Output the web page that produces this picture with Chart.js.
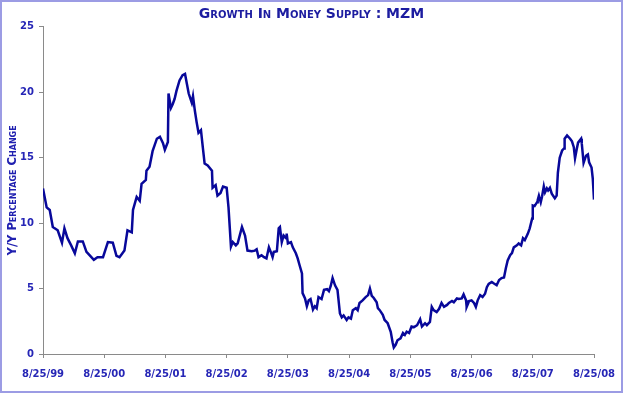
<!DOCTYPE html>
<html>
<head>
<meta charset="utf-8">
<script src="https://cdn.jsdelivr.net/npm/chart.js@4.4.1/dist/chart.umd.min.js"></script>
<style>
  body { margin: 0; background: #fff; }
  #wrap { position: relative; width: 623px; height: 393px; }
  #frame {
    position: absolute; left: 0; top: 0; width: 623px; height: 393px;
    box-sizing: border-box; border: 2px solid #9c9ce4; pointer-events: none;
  }
</style>
</head>
<body>
<div id="wrap">
  <canvas id="chart" width="623" height="393"></canvas>
  <div id="frame"></div>
</div>
<script>
// x tick labels, one per year starting 8/25/99
const xLabels = ['8/25/99', '8/25/00', '8/25/01', '8/25/02', '8/25/03',
                 '8/25/04', '8/25/05', '8/25/06', '8/25/07', '8/25/08'];

// time in years since 8/25/99
const yearsSince = [
  0.00, 0.06, 0.11, 0.16, 0.24, 0.31, 0.35, 0.40, 0.46, 0.52, 0.57, 0.65, 0.71, 0.76, 0.83, 0.89,
  0.98, 1.06, 1.14, 1.20, 1.25, 1.33, 1.38, 1.45, 1.47, 1.53, 1.58, 1.61, 1.68, 1.69, 1.74, 1.79,
  1.86, 1.91, 1.96, 1.99, 2.04, 2.05, 2.09, 2.12, 2.15, 2.18, 2.23, 2.28, 2.32, 2.35, 2.38, 2.43,
  2.45, 2.48, 2.51, 2.54, 2.58, 2.61, 2.64, 2.69, 2.76, 2.77, 2.82, 2.85, 2.90, 2.94, 3.00, 3.03,
  3.07, 3.10, 3.15, 3.18, 3.25, 3.30, 3.34, 3.41, 3.46, 3.49, 3.52, 3.57, 3.61, 3.65, 3.69, 3.72,
  3.75, 3.77, 3.82, 3.85, 3.87, 3.90, 3.93, 3.97, 3.98, 4.00, 4.05, 4.08, 4.13, 4.16, 4.19, 4.23,
  4.24, 4.28, 4.31, 4.34, 4.37, 4.41, 4.44, 4.47, 4.50, 4.55, 4.59, 4.64, 4.67, 4.70, 4.73, 4.77,
  4.81, 4.85, 4.88, 4.91, 4.96, 4.99, 5.03, 5.06, 5.11, 5.14, 5.17, 5.22, 5.27, 5.31, 5.34, 5.37,
  5.40, 5.45, 5.47, 5.50, 5.55, 5.58, 5.63, 5.68, 5.71, 5.73, 5.76, 5.79, 5.84, 5.88, 5.91, 5.94,
  5.98, 6.02, 6.06, 6.11, 6.16, 6.19, 6.24, 6.27, 6.32, 6.35, 6.38, 6.43, 6.47, 6.51, 6.55, 6.60,
  6.63, 6.68, 6.71, 6.76, 6.79, 6.84, 6.87, 6.91, 6.92, 6.96, 7.00, 7.04, 7.07, 7.10, 7.14, 7.18,
  7.22, 7.25, 7.28, 7.33, 7.36, 7.41, 7.45, 7.49, 7.53, 7.56, 7.59, 7.63, 7.66, 7.69, 7.74, 7.77,
  7.81, 7.84, 7.87, 7.92, 7.95, 7.99, 8.00, 8.03, 8.07, 8.08, 8.10, 8.13, 8.15, 8.18, 8.20, 8.23,
  8.25, 8.28, 8.31, 8.36, 8.39, 8.41, 8.44, 8.48, 8.51, 8.52, 8.56, 8.61, 8.64, 8.67, 8.69, 8.72,
  8.74, 8.79, 8.80, 8.83, 8.87, 8.90, 8.92, 8.96, 8.98, 9.00
];

// MZM year-over-year growth, percent
const mzmGrowth = [
  12.65, 11.2, 11.0, 9.7, 9.45, 8.5, 9.6, 8.85, 8.3, 7.7, 8.6, 8.6, 7.8, 7.55, 7.2, 7.4,
  7.4, 8.55, 8.5, 7.5, 7.4, 7.9, 9.45, 9.3, 11.0, 12.0, 11.7, 13.0, 13.3, 14.0, 14.3, 15.5,
  16.45, 16.6, 16.1, 15.6, 16.2, 19.9, 18.8, 19.1, 19.5, 20.1, 20.9, 21.3, 21.4, 20.65, 19.9, 19.2,
  19.7, 18.6, 17.7, 16.9, 17.1, 15.8, 14.55, 14.4, 14.0, 12.7, 12.9, 12.1, 12.3, 12.8, 12.7, 11.2,
  8.2, 8.55, 8.3, 8.45, 9.7, 9.05, 7.9, 7.85, 7.9, 8.0, 7.4, 7.55, 7.4, 7.3, 8.15, 7.8,
  7.4, 7.8, 7.85, 9.6, 9.7, 8.55, 9.05, 8.85, 9.2, 8.45, 8.55, 8.15, 7.7, 7.3, 6.8, 6.15,
  4.65, 4.25, 3.65, 4.1, 4.2, 3.4, 3.65, 3.5, 4.35, 4.2, 4.9, 4.95, 4.8, 5.2, 5.8, 5.25,
  4.9, 3.1, 2.8, 2.95, 2.6, 2.8, 2.7, 3.35, 3.5, 3.35, 3.9, 4.1, 4.35, 4.5, 5.0, 4.45,
  4.3, 3.95, 3.5, 3.35, 3.0, 2.6, 2.35, 1.7, 0.9, 0.5, 0.7, 1.05, 1.2, 1.6, 1.45, 1.7,
  1.6, 2.1, 2.05, 2.2, 2.65, 2.1, 2.35, 2.2, 2.45, 3.6, 3.35, 3.2, 3.45, 3.9, 3.6, 3.75,
  3.9, 4.05, 3.95, 4.25, 4.2, 4.25, 4.55, 4.1, 3.6, 4.05, 4.1, 3.9, 3.6, 4.1, 4.5, 4.35,
  4.6, 5.1, 5.35, 5.5, 5.4, 5.25, 5.65, 5.8, 5.85, 6.55, 7.15, 7.55, 7.7, 8.15, 8.3, 8.45,
  8.3, 8.85, 8.7, 9.2, 9.6, 10.35, 11.35, 11.3, 11.6, 11.75, 12.1, 11.6, 12.0, 12.8, 12.35, 12.65,
  12.5, 12.7, 12.25, 11.9, 12.1, 13.85, 15.0, 15.55, 15.7, 16.45, 16.7, 16.45, 16.25, 15.8, 14.95, 15.7,
  16.15, 16.45, 16.1, 14.6, 15.15, 15.25, 14.65, 14.25, 13.4, 11.8
];

const yTicks = [0, 5, 10, 15, 20, 25];

const points = yearsSince.map((t, i) => ({ x: t, y: mzmGrowth[i] }));

const tickFont = { family: 'DejaVu Sans', size: 10, weight: 'bold' };
const tickColor = '#2626b6';
const axisGray = '#8a8a8a';

// Chart.js only checks "style", so small-caps rides along with the weight
new Chart(document.getElementById('chart'), {
    type: 'line',
    data: {
        datasets: [{
            data: points,
            borderColor: '#08089a',
            borderWidth: 2.5,
            pointRadius: 0,
            tension: 0,
            fill: false
        }]
    },
    options: {
        responsive: false,
        animation: false,
        events: [],
        layout: {
            padding: 0
        },
        plugins: {
            legend: { display: false },
            tooltip: { enabled: false },
            title: {
                display: true,
                text: 'Growth In Money Supply : MZM',
                color: '#1c1ca0',
                font: { family: 'DejaVu Sans', size: 14, weight: 'small-caps bold', lineHeight: 1.2 },
                padding: { top: 6, bottom: 4 }
            }
        },
        scales: {
            x: {
                type: 'linear',
                min: 0,
                max: 9,
                afterFit: function (scale) {
                    scale.height = 39;
                    scale.paddingRight = 29;   // keep title centred on the whole canvas
                },
                ticks: {
                    stepSize: 1,
                    autoSkip: false,
                    maxRotation: 0,
                    padding: 10,
                    color: tickColor,
                    font: tickFont,
                    callback: function (v) { return xLabels[v]; }
                },
                grid: {
                    drawOnChartArea: false,
                    drawTicks: true,
                    tickLength: 4,
                    color: axisGray
                },
                border: { display: true, color: axisGray, width: 1 }
            },
            y: {
                min: 0,
                max: 25,
                afterFit: function (scale) { scale.width = 43; },
                afterBuildTicks: function (scale) {
                    scale.ticks = yTicks.map(v => ({ value: v }));
                },
                ticks: {
                    padding: 5,
                    color: tickColor,
                    font: tickFont
                },
                grid: {
                    drawOnChartArea: false,
                    drawTicks: true,
                    tickLength: 4,
                    color: axisGray
                },
                border: { display: true, color: axisGray, width: 1 },
                title: {
                    display: true,
                    text: 'Y/Y Percentage Change',
                    color: '#2020b0',
                    font: { family: 'DejaVu Sans', size: 11.5, weight: 'small-caps bold' },
                    padding: { top: 6, bottom: 0 }
                }
            }
        }
    }
});
</script>
</body>
</html>
